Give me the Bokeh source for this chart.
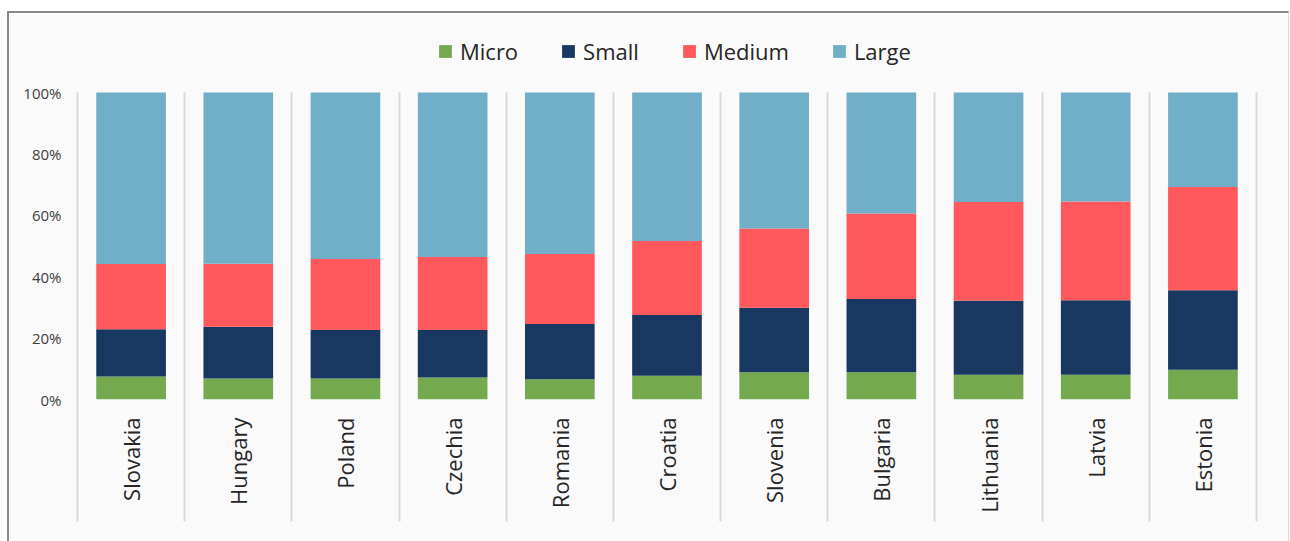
import math
from bokeh.plotting import figure
from bokeh.models import (ColumnDataSource, FixedTicker, PrintfTickFormatter,
                          Legend, LegendItem, Range1d)
from bokeh.embed import file_html
from bokeh.resources import INLINE

countries = ["Slovakia", "Hungary", "Poland", "Czechia", "Romania", "Croatia",
             "Slovenia", "Bulgaria", "Lithuania", "Latvia", "Estonia"]
micro = [7.5, 6.8, 6.8, 7.2, 6.6, 7.7, 8.9, 8.9, 8.1, 8.1, 9.7]
small = [15.4, 16.9, 15.8, 15.4, 18.0, 19.8, 21.0, 23.8, 24.1, 24.2, 25.9]
medium = [21.2, 20.5, 23.2, 23.8, 22.8, 24.1, 25.8, 27.9, 32.1, 32.2, 33.6]
large = [55.9, 55.8, 54.2, 53.6, 52.6, 48.4, 44.3, 39.4, 35.7, 35.5, 30.8]
series = ["Micro", "Small", "Medium", "Large"]
colors = ["#74A94F", "#183861", "#FF585D", "#71AFC8"]
y_ticks = [0, 20, 40, 60, 80, 100]

FONT = "Open Sans"
BG = "#FAFAFA"

# layout (pixels)
PLOT_H = 307          # height of the 0..100 % span
HEADROOM = 72         # room above 100 % for the legend
y_top = 100 * (PLOT_H + HEADROOM) / PLOT_H

xs = list(range(len(countries)))
source = ColumnDataSource(dict(x=xs, Micro=micro, Small=small,
                               Medium=medium, Large=large))

p = figure(width=1282, height=530,
           x_range=Range1d(-0.5, len(countries) - 0.5),
           y_range=Range1d(0, y_top),
           output_backend="svg", toolbar_location=None,
           min_border_left=68, min_border_right=35,
           min_border_top=7, min_border_bottom=144)
p.background_fill_color = BG
p.border_fill_color = BG
p.outline_line_color = None
p.styles = {"border-top": "2px solid #888888", "border-left": "2px solid #888888",
            "border-right": "1px solid #DADADA",
            "margin-top": "11px", "margin-left": "7px"}

renderers = p.vbar_stack(series, x="x", width=0.65, fill_color=colors,
                         line_color=None, source=source)

legend = Legend(items=[LegendItem(label=s, renderers=[r]) for s, r in zip(series, renderers)],
                orientation="horizontal", location=(360, 333),
                glyph_width=16, glyph_height=16, label_standoff=7, spacing=42,
                padding=0, margin=0,
                label_text_font=FONT, label_text_font_size="22px",
                label_text_color="#262626",
                border_line_color=None, background_fill_alpha=0)
p.add_layout(legend, "center")

# category separators: minor ticks of the x axis, reaching up to 100 % and down past labels
sep_ticker = FixedTicker(ticks=xs, minor_ticks=[i - 0.5 for i in range(len(countries) + 1)])
xa = p.xaxis[0]
xa.ticker = sep_ticker
xa.major_label_overrides = {i: c for i, c in zip(xs, countries)}
xa.major_label_orientation = math.pi / 2
xa.axis_line_color = None
xa.major_tick_line_color = None
xa.major_tick_in = 0
xa.major_tick_out = 0
xa.minor_tick_in = PLOT_H
xa.minor_tick_out = 122
xa.minor_tick_line_color = "#DADADA"
xa.minor_tick_line_width = 2
xa.major_label_standoff = 18 - 122
xa.major_label_text_font = FONT
xa.major_label_text_font_size = "22px"
xa.major_label_text_color = "#262626"

p.xgrid.grid_line_color = None
p.ygrid.grid_line_color = None

ya = p.yaxis[0]
ya.ticker = FixedTicker(ticks=y_ticks)
ya.formatter = PrintfTickFormatter(format="%d%%")
ya.axis_line_color = None
ya.major_tick_line_color = None
ya.minor_tick_line_color = None
ya.major_tick_in = 0
ya.major_tick_out = 0
ya.major_label_standoff = 16
ya.major_label_text_font = FONT
ya.major_label_text_font_size = "15px"
ya.major_label_text_color = "#404040"

open("out.html", "w").write(file_html(p, INLINE))
